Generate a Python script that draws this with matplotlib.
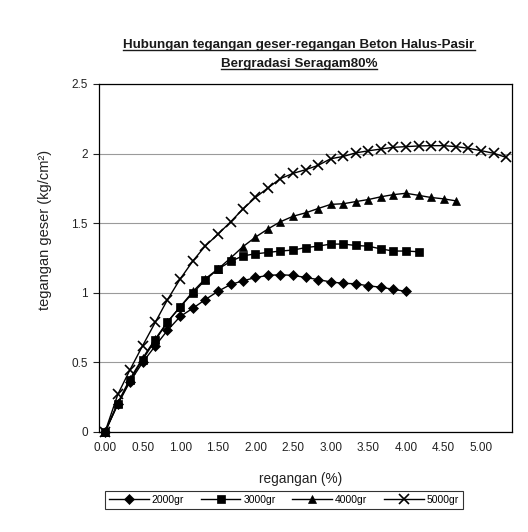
import numpy as np
import matplotlib
matplotlib.use("Agg")
import matplotlib.pyplot as plt
from matplotlib.lines import Line2D

plt.rcParams['font.family'] = ['Liberation Sans', 'DejaVu Sans']

# regangan (%) - langkah pembacaan dial
regangan = [0.00, 0.17, 0.33, 0.50, 0.67, 0.83, 1.00, 1.17, 1.33, 1.50,
            1.67, 1.83, 2.00, 2.17, 2.33, 2.50, 2.67, 2.83, 3.00, 3.17,
            3.33, 3.50, 3.67, 3.83, 4.00, 4.17, 4.33, 4.50, 4.67, 4.83,
            5.00, 5.17, 5.33]

# tegangan geser (kg/cm2)
geser_2000 = [0.00, 0.20, 0.36, 0.50, 0.62, 0.73, 0.83, 0.89, 0.95, 1.01,
              1.06, 1.085, 1.11, 1.125, 1.13, 1.125, 1.11, 1.095, 1.078, 1.068,
              1.065, 1.05, 1.04, 1.025, 1.01]
geser_3000 = [0.00, 0.20, 0.37, 0.52, 0.66, 0.79, 0.90, 1.00, 1.09, 1.17,
              1.225, 1.265, 1.28, 1.29, 1.30, 1.307, 1.325, 1.335, 1.35, 1.35,
              1.34, 1.335, 1.315, 1.30, 1.30, 1.295]
geser_4000 = [0.00, 0.21, 0.38, 0.53, 0.67, 0.79, 0.90, 1.01, 1.10, 1.17,
              1.25, 1.33, 1.40, 1.46, 1.51, 1.55, 1.575, 1.605, 1.635, 1.64,
              1.655, 1.67, 1.69, 1.705, 1.715, 1.70, 1.685, 1.675, 1.66]
geser_5000 = [0.00, 0.27, 0.445, 0.62, 0.79, 0.95, 1.10, 1.23, 1.335, 1.42,
              1.51, 1.60, 1.685, 1.755, 1.82, 1.858, 1.885, 1.915, 1.963, 1.98,
              2.005, 2.02, 2.033, 2.045, 2.05, 2.055, 2.057, 2.057, 2.05, 2.038,
              2.021, 2.002, 1.973]

seri = [('2000gr', geser_2000, 'D', 5),
        ('3000gr', geser_3000, 's', 5.5),
        ('4000gr', geser_4000, '^', 6),
        ('5000gr', geser_5000, 'x', 7)]

fig = plt.figure(figsize=(5.28, 5.32), dpi=100)
ax = fig.add_axes([99/528, 1 - 432/532, 413/528, 348/532])

for nama, y, mk, ms in seri:
    x = regangan[:len(y)]
    ax.plot(x, y, color='black', linewidth=1.0, marker=mk, markersize=ms,
            markeredgewidth=1.2 if mk == 'x' else 0.5, label=nama,
            clip_on=False)

ax.set_xlim(-0.08, 5.41)
ax.set_ylim(0, 2.5)
ax.set_xticks(np.arange(0, 5.01, 0.5))
ax.set_xticklabels([f"{v:.2f}" for v in np.arange(0, 5.01, 0.5)])
ax.set_yticks([0, 0.5, 1, 1.5, 2, 2.5])
ax.set_yticklabels(['0', '0.5', '1', '1.5', '2', '2.5'])
ax.tick_params(axis='x', length=0, pad=7, labelsize=8.5, colors='#222222')
ax.tick_params(axis='y', length=4, width=0.8, pad=4, labelsize=8.5,
               colors='#222222')
ax.yaxis.grid(True, color='#9a9a9a', linewidth=0.8)
ax.set_axisbelow(True)
for s in ax.spines.values():
    s.set_linewidth(0.9)
    s.set_color('black')

ax.set_xlabel('regangan (%)', fontsize=9.8, color='#222222')
ax.xaxis.set_label_coords(0.487, -0.115)
ax.set_ylabel('tegangan geser (kg/cm²)', fontsize=10.5, color='#222222')
ax.yaxis.set_label_coords(-0.115, 0.58)

# judul bergaris bawah
judul = ['Hubungan tegangan geser-regangan Beton Halus-Pasir',
         'Bergradasi Seragam80%']
ypos = [1 - 45/532, 1 - 64/532]
teks = []
for t, yy in zip(judul, ypos):
    teks.append(fig.text(299/528, yy, t, ha='center', va='center',
                         fontsize=9.6, fontweight='bold', color='#1a1a1a'))
fig.canvas.draw()
r = fig.canvas.get_renderer()
for tt in teks:
    bb = tt.get_window_extent(renderer=r).transformed(fig.transFigure.inverted())
    fig.add_artist(Line2D([bb.x0, bb.x1], [bb.y0 + 0.001, bb.y0 + 0.001],
                          color='#1a1a1a', linewidth=1.0,
                          transform=fig.transFigure))

leg = fig.legend(loc='center', bbox_to_anchor=(284/528, 1 - 500/532), ncol=4,
                 fontsize=7.5, frameon=True, fancybox=False, edgecolor='black',
                 handlelength=3.8, columnspacing=1.6, handletextpad=0.3,
                 borderpad=0.35)
leg.get_frame().set_linewidth(0.8)

fig.savefig('out.png', dpi=100)
